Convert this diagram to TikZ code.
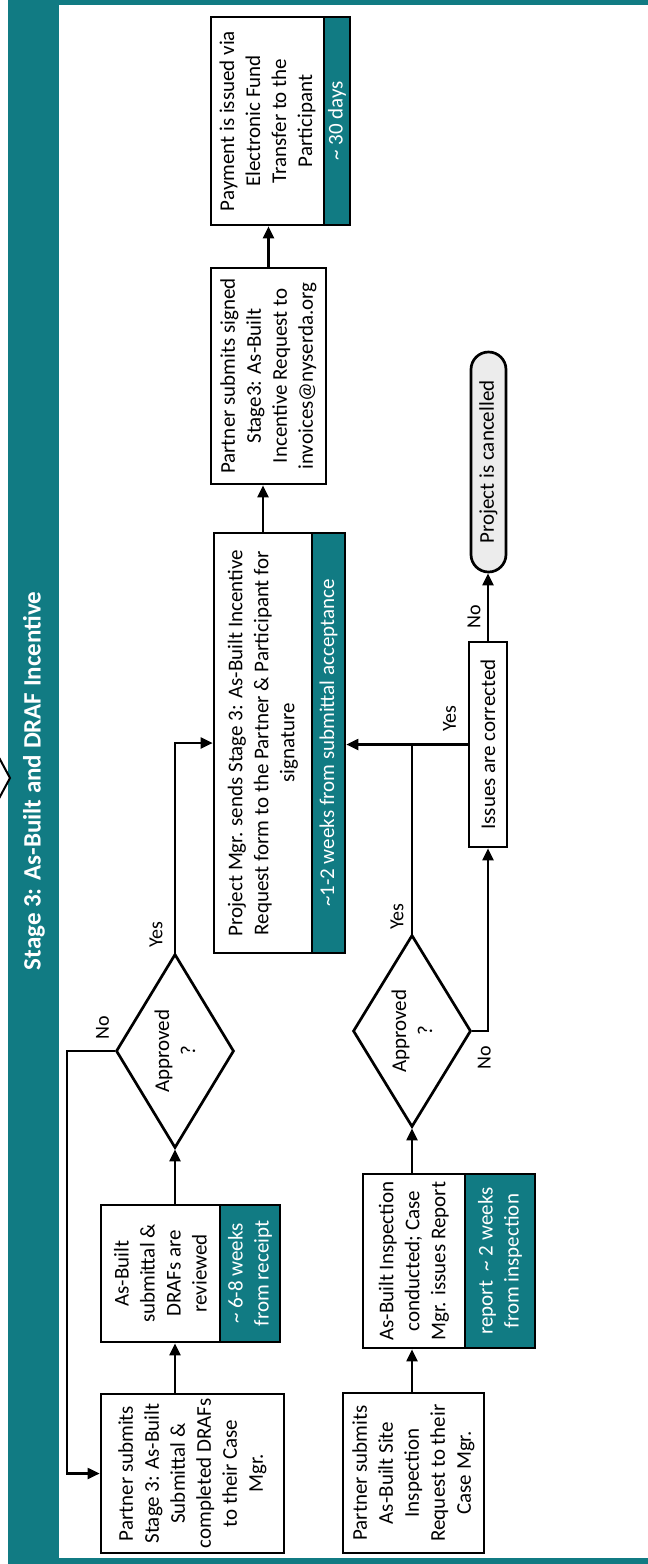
\documentclass[tikz,border=0pt]{standalone}
\usepackage{fontspec}
\setmainfont{Carlito}
\usetikzlibrary{shapes.geometric,shapes.misc,arrows.meta}
\definecolor{stageteal}{RGB}{17,123,131}
\tikzset{
  box/.style={draw,line width=2.7pt,fill=white,rotate=90,align=center,inner sep=0pt},
  strip/.style={box,fill=stageteal,text=white},
  decision/.style={draw,diamond,aspect=1.64,line width=2.7pt,fill=white,rotate=90,align=center,inner sep=0pt},
  ans/.style={rotate=90,font=\fontsize{20}{24}\selectfont},
  flow/.style={line width=2.1pt,-{Triangle[length=12pt,width=11pt]}}
}

\begin{document}
\begin{tikzpicture}[x=1pt,y=1pt,font=\fontsize{21}{26}\selectfont]
    \useasboundingbox (0,0) rectangle (648,-1564);
    \fill[stageteal] (8,0) rectangle (59,-1564);
    \fill[stageteal] (8,0) rectangle (648,-5);
    \fill[stageteal] (8,-1558) rectangle (648,-1564);
    \draw[line width=2pt,fill=white] (-40,-685) -- (10,-778) -- (-40,-871) -- cycle;
    \node[rotate=90,text=white,font=\fontsize{25}{30}\selectfont\bfseries] (title) at (34,-781) {Stage 3: As-Built and DRAF Incentive};

    \node[box,minimum width=159pt,minimum height=183pt] (b1) at (192.5,-1473.5) {Partner submits\\Stage 3: As-Built\\Submittal \&\\completed DRAFs\\to their Case\\Mgr.};
    \node[box,minimum width=137pt,minimum height=119pt] (b2) at (160.5,-1273.5) {As-Built\\submittal \&\\DRAFs are\\reviewed};
    \node[strip,minimum width=137pt,minimum height=60pt] (b2t) at (250,-1273.5) {\textasciitilde\ 6-8 weeks\\from receipt};
    \node[decision,minimum width=194pt,minimum height=118pt] (d1) at (175,-1051) {Approved\\?};
    \node[box,minimum width=420pt,minimum height=98pt] (b3) at (263,-743) {Project Mgr. sends Stage 3: As-Built Incentive\\Request form to the Partner \& Participant for\\signature};
    \node[strip,minimum width=420pt,minimum height=33pt] (b3t) at (328.5,-743) {\textasciitilde 1-2 weeks from submittal acceptance};
    \node[box,minimum width=216pt,minimum height=115pt] (b4) at (268.5,-376) {Partner submits signed\\Stage3: As-Built\\Incentive Request to\\invoices@nyserda.org};
    \node[box,minimum width=208pt,minimum height=113pt] (b5) at (267.5,-121) {Payment is issued via\\Electronic Fund\\Transfer to the\\Participant};
    \node[strip,minimum width=208pt,minimum height=26pt] (b5t) at (337,-121) {\textasciitilde\ 30 days};

    \node[box,minimum width=160pt,minimum height=141pt] (b6) at (413.5,-1473) {Partner submits\\As-Built Site\\Inspection\\Request to their\\Case Mgr.};
    \node[box,minimum width=174pt,minimum height=102pt] (b7) at (414,-1261) {As-Built Inspection\\conducted; Case\\Mgr. issues Report};
    \node[strip,minimum width=174pt,minimum height=70pt] (b7t) at (500,-1261) {report \ \textasciitilde\ 2 weeks\\from inspection};
    \node[decision,minimum width=192pt,minimum height=118pt] (d2) at (412,-1031) {Approved\\?};
    \node[box,minimum width=205pt,minimum height=38pt] (fix) at (488,-744.5) {Issues are corrected};
    \node[rounded rectangle,draw,line width=2.7pt,fill=gray!15,rotate=90,inner sep=0pt,minimum width=220pt,minimum height=35pt] (cancel) at (488.5,-462) {Project is cancelled};

    \node[ans] (no1) at ([shift={(-12,23)}]d1.north) {No};
    \node[ans] (yes1) at ([shift={(-19,18)}]d1.east) {Yes};
    \node[ans] (yes2) at ([shift={(-15,17)}]d2.east) {Yes};
    \node[ans] (no2) at ([shift={(12,-27)}]d2.south) {No};
    \node[ans] (yes3) at ([shift={(-18,26)}]fix.north) {Yes};
    \node[ans] (no3) at ([shift={(-14,24)}]fix.east) {No};

    \draw[flow] (b1.east -| d1.center) -- (b2.west -| d1.center);
    \draw[flow] (b2.east -| d1.center) -- (d1.west);
    \draw[flow] (d1.north) -- ++(-48,0) |- (b1.north);
    \draw[flow] (d1.east) |- (b3.north);
    \draw[flow] (b3.east) -- (b3.east |- b4.west);
    \draw[flow] (b4.east) -- (b4.east |- b5.west);
    \draw[flow] (b6.east -| d2.center) -- (b7.west -| d2.center);
    \draw[flow] (b7.east -| d2.center) -- (d2.west);
    \draw[line width=2.1pt] (d2.east) -- (d2.east |- fix.north);
    \draw[flow] (fix.north) -- (fix.north -| b3t.south);
    \draw[flow] (d2.south) -| (fix.west);
    \draw[flow] (fix.east) -- (fix.east |- cancel.west);
\end{tikzpicture}
\end{document}
